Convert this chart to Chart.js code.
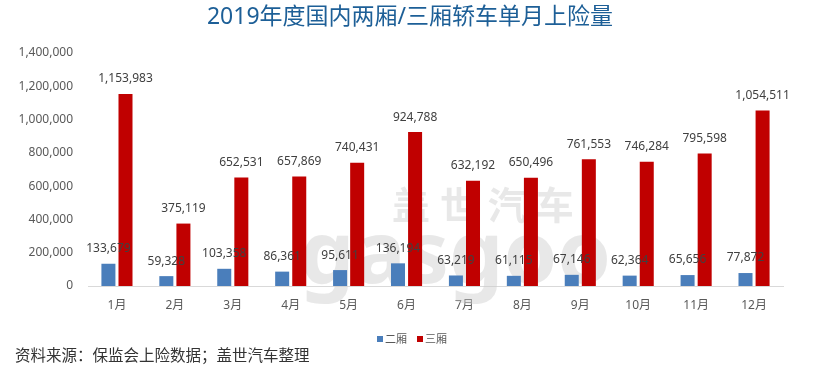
<!DOCTYPE html>
<html>
<head>
<meta charset="utf-8">
<script src="https://cdn.jsdelivr.net/npm/chart.js@4"></script>
<style>
  html, body { margin: 0; padding: 0; background: #fff; }
  #wrap { width: 820px; height: 371px; position: relative; }
</style>
</head>
<body>
<div id="wrap"><canvas id="chart"></canvas></div>
<script>
const months = ['1月', '2月', '3月', '4月', '5月', '6月', '7月', '8月', '9月', '10月', '11月', '12月'];
const twoBox = [133679, 59328, 103358, 86361, 95611, 136194, 63219, 61115, 67146, 62364, 65656, 77872];
const threeBox = [1153983, 375119, 652531, 657869, 740431, 924788, 632192, 650496, 761553, 746284, 795598, 1054511];
const yTicks = [0, 200000, 400000, 600000, 800000, 1000000, 1200000, 1400000];

const titleText = '2019年度国内两厢/三厢轿车单月上险量';
const sourceText = '资料来源：保监会上险数据；盖世汽车整理';
const FONT = "'Noto Sans', 'Noto Sans CJK SC', sans-serif";

const fmt = v => v.toLocaleString('en-US');

// watermark behind the bars
const watermark = {
    id: 'watermark',
    beforeDatasetsDraw(chart) {
        const ctx = chart.ctx;
        ctx.save();
        ctx.fillStyle = 'rgba(205, 205, 205, 0.45)';
        ctx.textBaseline = 'middle';
        ctx.textAlign = 'left';
        ctx.font = `bold 38px ${FONT}`;
        ctx.fillText('盖 世 汽 车', 392, 208);
        ctx.font = `bold 86px ${FONT}`;
        ctx.fillText('gasgoo', 300, 258);
        ctx.restore();
    }
};

const valueLabels = {
    id: 'valueLabels',
    afterDatasetsDraw(chart) {
        const ctx = chart.ctx;
        ctx.save();
        ctx.font = `12px ${FONT}`;
        ctx.fillStyle = '#404040';
        ctx.textAlign = 'center';
        ctx.textBaseline = 'middle';
        chart.data.datasets.forEach((ds, i) => {
            chart.getDatasetMeta(i).data.forEach((bar, j) => {
                ctx.fillText(fmt(ds.data[j]), bar.x, bar.y - 15);
            });
        });
        ctx.restore();
    }
};

const decorations = {
    id: 'decorations',
    afterDraw(chart) {
        const ctx = chart.ctx;
        ctx.save();
        // title
        ctx.font = `23px ${FONT}`;
        ctx.fillStyle = '#1d5f97';
        ctx.textAlign = 'center';
        ctx.textBaseline = 'middle';
        ctx.fillText(titleText, 410, 17);

        // legend
        ctx.font = `11px ${FONT}`;
        ctx.textAlign = 'left';
        let x = 377;
        chart.data.datasets.forEach(ds => {
            ctx.fillStyle = ds.backgroundColor;
            ctx.fillRect(x, 336, 6, 6);
            ctx.fillStyle = '#595959';
            ctx.fillText(ds.label, x + 8, 340);
            x += 40;
        });

        // source note
        ctx.font = `15.5px ${FONT}`;
        ctx.fillStyle = '#333333';
        ctx.fillText(sourceText, 15, 357);
        ctx.restore();
    }
};

new Chart(document.getElementById('chart'), {
    type: 'bar',
    data: {
        labels: months,
        datasets: [
            { label: '二厢', data: twoBox, backgroundColor: '#4a7ebb', categoryPercentage: 0.59, barPercentage: 0.82 },
            { label: '三厢', data: threeBox, backgroundColor: '#c00000', categoryPercentage: 0.59, barPercentage: 0.82 }
        ]
    },
    options: {
        responsive: true,
        maintainAspectRatio: false,
        animation: false,
        layout: { padding: { top: 53, right: 37, left: 0, bottom: 0 } },
        plugins: {
            legend: { display: false },
            title: { display: false },
            tooltip: { enabled: false }
        },
        scales: {
            x: {
                grid: { display: false, drawTicks: false },
                border: { display: true, color: '#d9d9d9', width: 1 },
                ticks: { color: '#595959', font: { family: FONT, size: 12 }, padding: 12, maxRotation: 0 },
                afterFit: s => { s.height = 85; }
            },
            y: {
                min: 0,
                max: 1400000,
                afterBuildTicks: s => { s.ticks = yTicks.map(v => ({ value: v })); },
                grid: { display: false, drawTicks: false },
                border: { display: false },
                ticks: { color: '#595959', font: { family: FONT, size: 12 }, padding: 15, callback: v => fmt(v) },
                afterFit: s => { s.width = 88; }
            }
        }
    },
    plugins: [watermark, valueLabels, decorations]
});
</script>
</body>
</html>
